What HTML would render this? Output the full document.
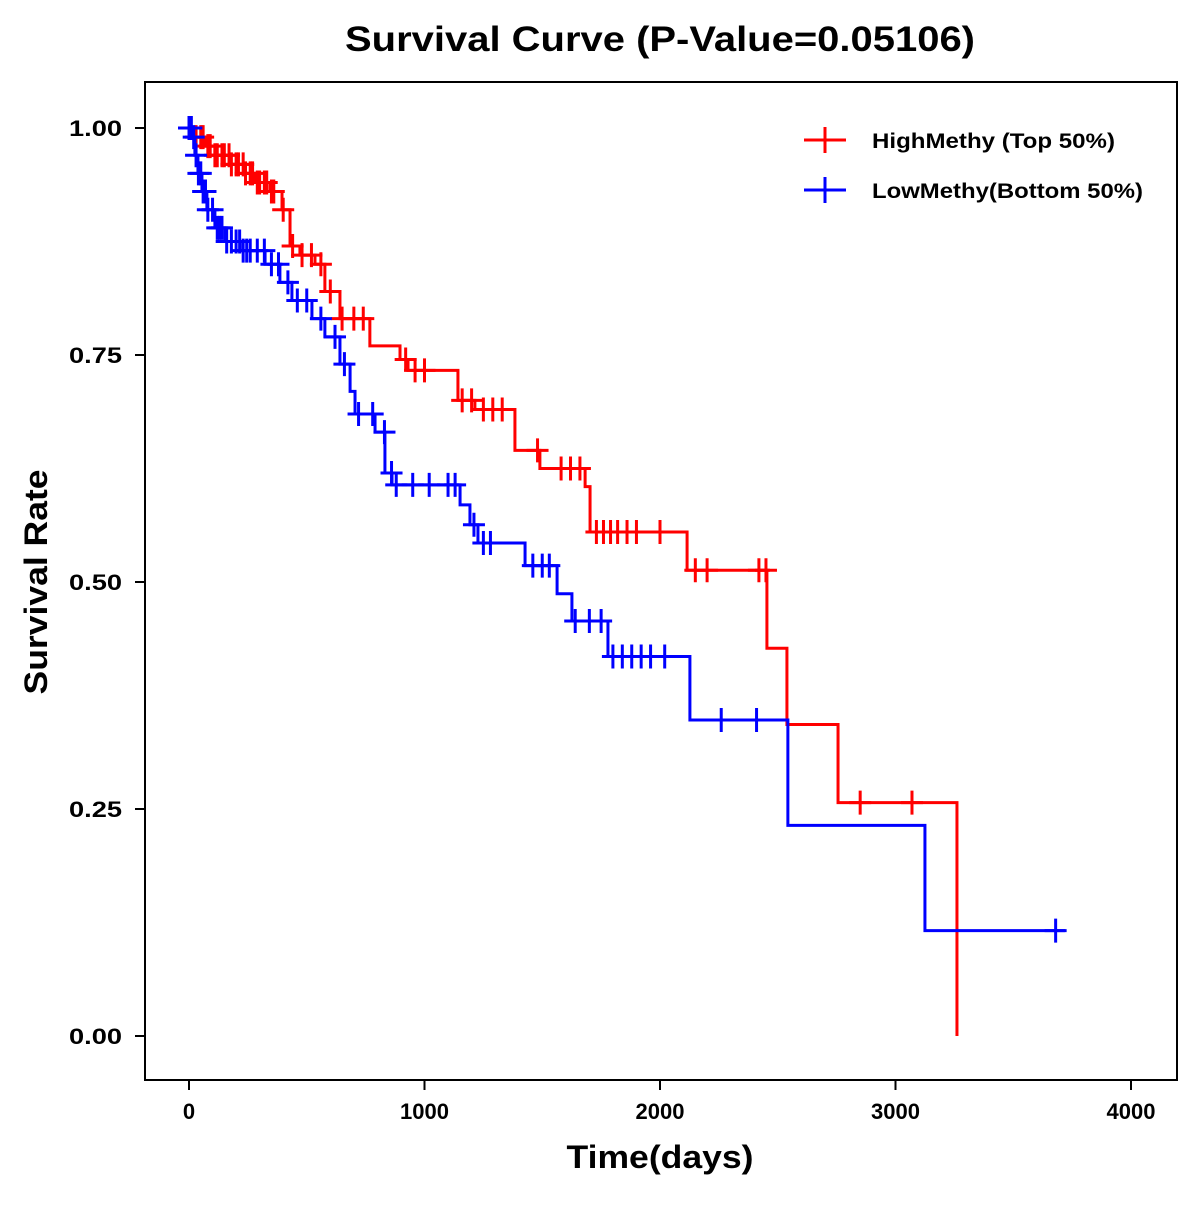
<!DOCTYPE html>
<html><head><meta charset="utf-8"><style>
body{margin:0;background:#fff}
svg text{font-family:"Liberation Sans",Arial,sans-serif;font-weight:bold;fill:#000}
</style></head><body>
<svg id="c" width="1200" height="1200" xmlns="http://www.w3.org/2000/svg">
<rect x="0" y="0" width="1200" height="1200" fill="#fff"/>
<text x="660" y="51" font-size="35" text-anchor="middle" textLength="630" lengthAdjust="spacingAndGlyphs">Survival Curve (P-Value=0.05106)</text>
<rect x="145" y="82" width="1032" height="998" fill="none" stroke="#000" stroke-width="2"/>
<g id="axes"></g>
<g id="series"></g>
<text x="660" y="1168" font-size="32" text-anchor="middle" textLength="187" lengthAdjust="spacingAndGlyphs">Time(days)</text>
<text transform="translate(47,582) rotate(-90)" font-size="32" text-anchor="middle" textLength="225" lengthAdjust="spacingAndGlyphs">Survival Rate</text>
<g>
<g>
<line x1="804" y1="140" x2="846" y2="140" stroke="#ff0000" stroke-width="3"/><line x1="825" y1="127" x2="825" y2="153" stroke="#ff0000" stroke-width="3"/>
<text x="872" y="148" font-size="21" textLength="243" lengthAdjust="spacingAndGlyphs">HighMethy (Top 50%)</text></g>
<g>
<line x1="804" y1="190" x2="846" y2="190" stroke="#0000ff" stroke-width="3"/><line x1="825" y1="177" x2="825" y2="203" stroke="#0000ff" stroke-width="3"/>
<text x="872" y="198" font-size="21" textLength="271" lengthAdjust="spacingAndGlyphs">LowMethy(Bottom 50%)</text></g>
</g>
</svg>
<script>
const xTicks=[0,1000,2000,3000,4000];
const yTicks=[0,0.25,0.5,0.75,1.0];
const yTickLabels=["0.00","0.25","0.50","0.75","1.00"];
const highTimes=[25,68,110,174,238,280,344,395,429,471,535,577,641,768,896,930,1142,1214,1384,1490,1682,1703,2115,2454,2539,2756,3261];
const highSurv=[0.99,0.98,0.97,0.96,0.95,0.94,0.93,0.91,0.87,0.86,0.85,0.82,0.79,0.76,0.745,0.733,0.70,0.69,0.645,0.625,0.605,0.555,0.513,0.427,0.343,0.257,0];
const highEnd=3261;
const highCensor=[30,50,60,80,90,110,120,140,150,170,180,200,210,230,240,260,270,290,300,320,330,350,360,400,440,480,520,560,600,650,700,740,920,960,1000,1160,1200,1250,1290,1330,1480,1580,1620,1660,1730,1760,1790,1820,1860,1900,2000,2150,2200,2420,2450,2850,3070];
const lowTimes=[13,25,38,55,76,110,153,217,323,386,437,522,577,641,684,705,790,832,862,1151,1193,1227,1427,1563,1626,1779,2127,2543,3125];
const lowSurv=[0.99,0.97,0.95,0.93,0.91,0.89,0.875,0.865,0.85,0.83,0.81,0.79,0.77,0.74,0.71,0.685,0.665,0.62,0.607,0.585,0.563,0.543,0.518,0.487,0.457,0.418,0.348,0.232,0.116];
const lowEnd=3720;
const lowCensor=[0,10,20,30,40,50,60,70,80,100,120,130,140,160,180,200,215,230,245,260,290,320,350,380,420,460,500,560,620,660,720,780,830,860,880,950,1020,1100,1130,1210,1250,1280,1460,1500,1530,1640,1700,1750,1800,1840,1880,1920,1960,2020,2260,2410,3680];
const NS="http://www.w3.org/2000/svg";
const xs=d=>189+d*(1131-189)/4000;
const ys=v=>1036-v*(1036-128);
function mk(tag,attrs,parent){const e=document.createElementNS(NS,tag);for(const k in attrs)e.setAttribute(k,attrs[k]);parent.appendChild(e);return e;}
const ax=document.getElementById('axes');
xTicks.forEach(t=>{
 const l=mk('line',{x1:xs(t),x2:xs(t),y1:1080,y2:1090,stroke:'#000','stroke-width':2},ax);
 
 
 const tx=mk('text',{x:xs(t),y:1119,'font-size':22,'text-anchor':'middle'},ax);tx.textContent=t;
 
 
});
yTicks.forEach((t,i)=>{
 const l=mk('line',{x1:135,x2:145,y1:ys(t),y2:ys(t),stroke:'#000','stroke-width':2},ax);
 
 
 const tx=mk('text',{x:122,y:ys(t)+8,'font-size':22,'text-anchor':'end',textLength:53,lengthAdjust:'spacingAndGlyphs'},ax);tx.textContent=yTickLabels[i];
 
 
});
function survAt(times,surv,t){let s=1;for(let i=0;i<times.length;i++){if(times[i]<=t)s=surv[i];}return s;}
const sg=document.getElementById('series');
function draw(times,surv,end,cens,color,name){
 const g=mk('g',{},sg);
 
 
 let d='M'+xs(0)+','+ys(1);
 times.forEach((t,i)=>{d+=' H'+xs(t)+' V'+ys(surv[i]);});
 const last=times[times.length-1];
 if(end>last)d+=' H'+xs(end);
 const p=mk('path',{d:d,fill:'none',stroke:color,'stroke-width':3},g);
 
 
 cens.forEach(c=>{
  const x=xs(c),y=ys(survAt(times,surv,c));
  const m=mk('path',{d:`M${x-11},${y} H${x+11} M${x},${y-12} V${y+12}`,stroke:color,'stroke-width':3,fill:'none'},g);
  
  
 });
}
draw(highTimes,highSurv,highEnd,highCensor,'#ff0000','high-methy');
draw(lowTimes,lowSurv,lowEnd,lowCensor,'#0000ff','low-methy');
</script>
</body></html>
